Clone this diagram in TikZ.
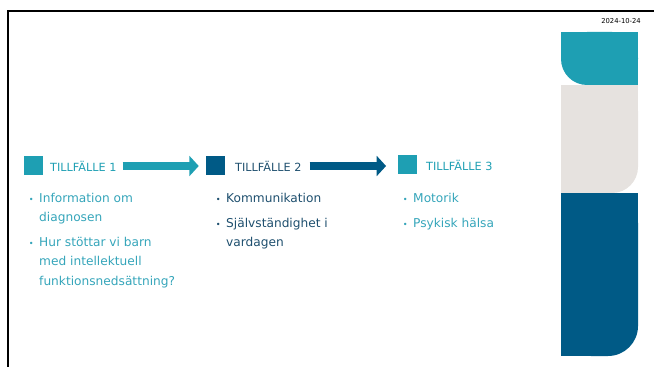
\documentclass[tikz,border=0pt]{standalone}
\usepackage{fontspec}
\setmainfont{DejaVu Sans}
\usetikzlibrary{arrows, arrows.meta}
\definecolor{slteal}{HTML}{1E9FB3}
\definecolor{slblue}{HTML}{005A86}
\definecolor{slgray}{HTML}{E6E2DF}
\definecolor{txteal}{HTML}{35A5BA}
\definecolor{txblue}{HTML}{1E4F6E}

\tikzset{
  tagbox/.style={minimum size=0.57cm, inner sep=0pt},
  head/.style={anchor=west, inner sep=0pt, font=\fontsize{9.6}{11}\selectfont},
  item/.style={anchor=north west, inner sep=0pt, align=left, font=\fontsize{10.4}{16.6}\selectfont},
  flow/.style={line width=7.6pt, -{Triangle[width=17pt,length=8pt]}}
}
\newcommand{\bul}{\llap{\fontsize{7}{7}\selectfont •\hspace{4.8pt}}}

\begin{document}
\begin{tikzpicture}[x=0.03cm, y=-0.03cm]
\useasboundingbox (0,0) rectangle (654,367);
%\draw[step=10,gray,very thin] (0,0) grid (654,367); %background grid
\draw[line width=2.2pt] (654,11) -- (8,11) -- (8,367);
\node[anchor=east, inner sep=0pt, font=\fontsize{5.8}{7}\selectfont] (date) at (641,21) {2024-10-24};
%--------------------------------------------------- side bars
\fill[slteal, rounded corners=0.78cm] (561,32) rectangle (638,85);
\fill[slteal] (561,32) rectangle (638,60);
\fill[slteal] (590,32) rectangle (638,85);
\fill[slgray, rounded corners=0.78cm] (561,85) rectangle (638,193);
\fill[slgray] (561,85) rectangle (638,160);
\fill[slgray] (561,85) rectangle (605,193);
\fill[slblue, rounded corners=0.9cm] (561,193) rectangle (638,356);
\fill[slblue] (561,193) rectangle (638,320);
\fill[slblue] (561,193) rectangle (600,356);
%--------------------------------------------------- headers
\node[tagbox, fill=slteal] (s1) at (33.5,165.5) {};
\node[head, text=slteal] (t1) at (50,166) {TILLFÄLLE 1};
\node[tagbox, fill=slblue] (s2) at (215.5,165.5) {};
\node[head, text=txblue] (t2) at (235,166) {TILLFÄLLE 2};
\node[tagbox, fill=slteal] (s3) at (407.5,164) {};
\node[head, text=slteal] (t3) at (426,165) {TILLFÄLLE 3};
%---------------------------------------------------
\draw[flow, slteal, shorten <=5pt, shorten >=6pt] (t1.east) -- (s2.west |- t1.east);
\draw[flow, slblue, shorten <=6.8pt, shorten >=10pt] (t2.east) -- (s3.west |- t2.east);
%--------------------------------------------------- lists
\node[item, text=txteal] (a1) at (39,193) {\bul Information om\\diagnosen};
\node[item, text=txteal] (a2) at (39,237) {\bul Hur stöttar vi barn\\med intellektuell\\funktionsnedsättning?};
\node[item, text=txblue] (b1) at (226,193) {\bul Kommunikation};
\node[item, text=txblue] (b2) at (226,218) {\bul Självständighet i\\vardagen};
\node[item, text=txteal] (c1) at (413,193) {\bul Motorik};
\node[item, text=txteal] (c2) at (413,218) {\bul Psykisk hälsa};
\end{tikzpicture}
\end{document}
